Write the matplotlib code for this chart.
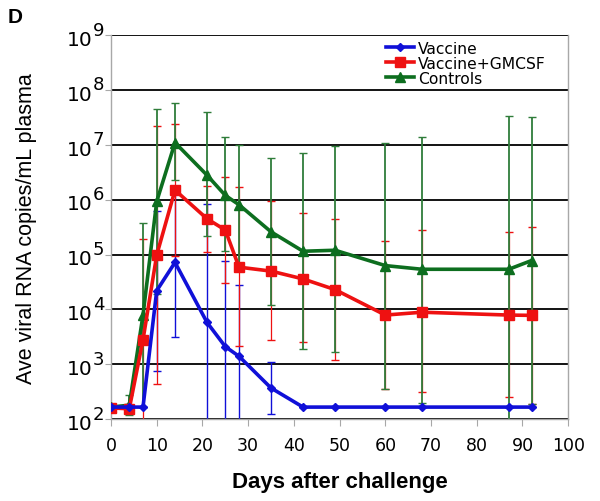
import numpy as np
import matplotlib
matplotlib.use('Agg')
import matplotlib.pyplot as plt
import matplotlib.transforms as mtransforms

# Days after challenge
days = [0, 4, 7, 10, 14, 21, 25, 28, 35, 42, 49, 60, 68, 87, 92]

# Vaccine (blue)
vac_mean = [166, 166, 166, 2.2e4, 7.2e4, 5.8e3, 2.1e3, 1.4e3, 370, 166, 166, 166, 166, 166, 166]
vac_upper = [166, 166, 166, 6.3e5, 1.7e6, 8.3e5, 7.6e4, 2.8e4, 1.1e3, 166, 166, 166, 166, 166, 166]
vac_lower = [166, 166, 166, 760, 3.2e3, 40, 58, 69, 123, 166, 166, 166, 166, 166, 166]

# Vaccine+GMCSF (red)
gm_mean = [160, 155, 2.8e3, 9.8e4, 1.5e6, 4.5e5, 2.8e5, 5.9e4, 5.0e4, 3.6e4, 2.3e4, 7.9e3, 8.9e3, 7.9e3, 7.8e3]
gm_upper = [160, 155, 1.9e5, 2.2e7, 2.4e7, 1.8e6, 2.6e6, 1.7e6, 9.5e5, 5.8e5, 4.5e5, 1.8e5, 2.8e5, 2.6e5, 3.2e5]
gm_lower = [160, 155, 41, 430, 9.5e4, 1.1e5, 3.0e4, 2.2e3, 2.8e3, 2.6e3, 1.2e3, 350, 310, 250, 190]

# Controls (green)
ctl_mean = [166, 180, 7.9e3, 9.3e5, 1.1e7, 2.8e6, 1.2e6, 8.1e5, 2.6e5, 1.15e5, 1.2e5, 6.3e4, 5.4e4, 5.4e4, 7.8e4]
ctl_upper = [166, 275, 3.8e5, 4.5e7, 5.8e7, 3.9e7, 1.4e7, 9.8e6, 5.8e6, 7.1e6, 9.5e6, 1.1e7, 1.4e7, 3.4e7, 3.2e7]
ctl_lower = [166, 120, 166, 1.9e4, 2.3e6, 2.2e5, 1.15e5, 6.8e4, 1.2e4, 1.9e3, 1.7e3, 360, 200, 85, 190]

y_exponents = [2, 3, 4, 5, 6, 7, 8, 9]
x_ticks = [0, 10, 20, 30, 40, 50, 60, 70, 80, 90, 100]

BLUE = '#1010d8'
RED = '#ee1111'
GREEN = '#0d6e1f'
GREEN_ERR = '#2f7d3a'
GRAY = '#a8a8a8'

fig = plt.figure(figsize=(6.0, 5.02), dpi=100)
ax = fig.add_axes([0.185, 0.163, 0.762, 0.765])

# (name, mean, upper, lower, line colour, error colour, marker, size, error width)
series = [
    ('Vaccine', vac_mean, vac_upper, vac_lower, BLUE, BLUE, 'D', 4.5, 1.0),
    ('Vaccine+GMCSF', gm_mean, gm_upper, gm_lower, RED, RED, 's', 7, 0.9),
    ('Controls', ctl_mean, ctl_upper, ctl_lower, GREEN, GREEN_ERR, '^', 6.5, 1.3),
]

d = np.array(days, dtype=float)
# error bars: blue under red under green
for name, m, up, lo, col, ecol, mk, ms, ew in series:
    m = np.array(m, dtype=float)
    yerr = [m - np.array(lo, dtype=float), np.array(up, dtype=float) - m]
    ax.errorbar(d, m, yerr=yerr, fmt='none', ecolor=ecol, elinewidth=ew,
                capsize=3, capthick=1.0, zorder=2)

handles = {}
for name, m, up, lo, col, ecol, mk, ms, ew in reversed(series):
    h, = ax.plot(d, m, color=col, lw=2.6, marker=mk, ms=ms, mec=col, mfc=col,
                 zorder=3, label=name)
    handles[name] = h

ax.set_yscale('log')
ax.set_ylim(1e2, 1e9)
ax.set_xlim(0, 100)

for e in y_exponents:
    ax.axhline(10.0 ** e, color='black', lw=1.3, zorder=1)

for s in ['left', 'bottom', 'right']:
    ax.spines[s].set_color(GRAY)
    ax.spines[s].set_linewidth(1.0)
ax.spines['top'].set_visible(False)

ax.set_xticks(x_ticks)
ax.set_xticklabels([str(t) for t in x_ticks], fontsize=12.5, family='DejaVu Sans')
ax.tick_params(axis='x', direction='out', length=5, color=GRAY, pad=7)
ax.set_yticks([10.0 ** e for e in y_exponents])
ax.set_yticklabels([''] * len(y_exponents))
ax.yaxis.set_minor_locator(matplotlib.ticker.NullLocator())
ax.tick_params(axis='y', direction='out', length=4, color=GRAY)

# y tick labels: "10" with a raised exponent, nearly full size
trans = mtransforms.blended_transform_factory(ax.transAxes, ax.transData)
for e in y_exponents:
    base = mtransforms.offset_copy(trans, fig=fig, x=-13, y=-3, units='points')
    ax.text(0, 10.0 ** e, '10', transform=base, ha='right', va='center',
            fontsize=14.5, family='DejaVu Sans', clip_on=False)
    sup = mtransforms.offset_copy(trans, fig=fig, x=-13, y=4, units='points')
    ax.text(0, 10.0 ** e, str(e), transform=sup, ha='left', va='center',
            fontsize=13, family='DejaVu Sans', clip_on=False)

ax.set_ylabel('Ave viral RNA copies/mL plasma', fontsize=15.5,
              family='Liberation Sans', labelpad=46)
ax.set_xlabel('Days after challenge', fontsize=16, fontweight='bold',
              family='Liberation Sans', labelpad=12)

leg = ax.legend([handles['Vaccine'], handles['Vaccine+GMCSF'], handles['Controls']],
                ['Vaccine', 'Vaccine+GMCSF', 'Controls'],
                loc='upper left', bbox_to_anchor=(0.58, 1.01), frameon=False,
                handlelength=1.8, handletextpad=0.3,
                labelspacing=0.0, borderaxespad=0.2,
                prop={'family': 'DejaVu Sans', 'size': 11.2})

fig.text(0.013, 0.985, 'D', fontsize=15, fontweight='bold', family='Liberation Sans',
         ha='left', va='top')

fig.savefig('out.png', dpi=100)
